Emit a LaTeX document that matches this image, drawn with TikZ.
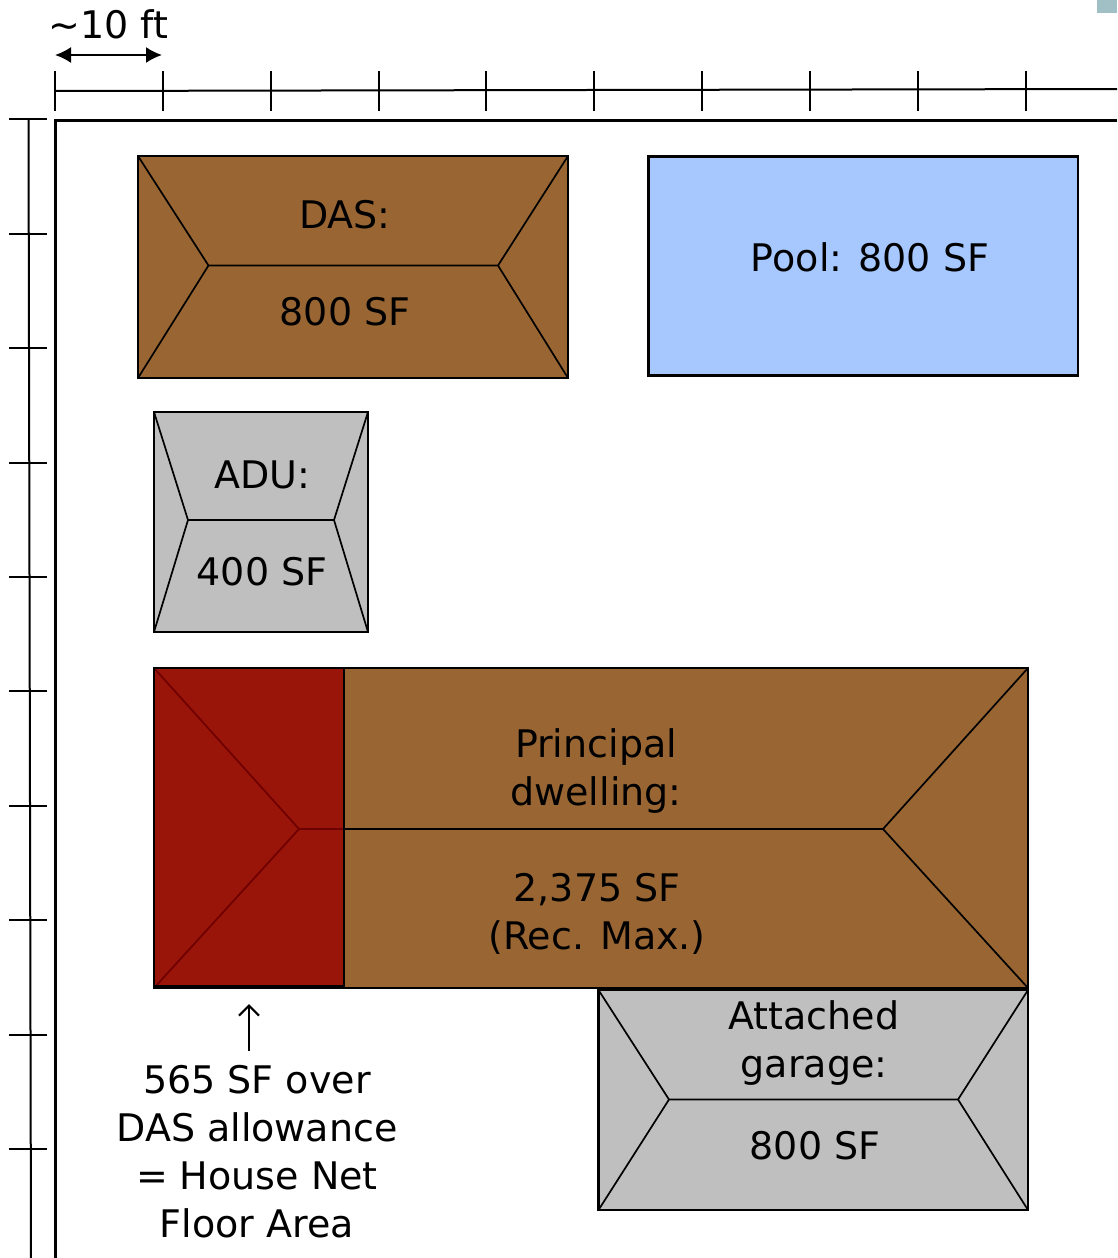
\documentclass[tikz,border=0pt]{standalone}
\usepackage{fontspec}
\setmainfont{DejaVu Sans}
\usetikzlibrary{arrows.meta}
\definecolor{roofbrown}{HTML}{996633}
\definecolor{roofgray}{HTML}{BFBFBF}
\definecolor{poolblue}{HTML}{A6C8FF}
\definecolor{overred}{HTML}{991409}
\definecolor{ridgered}{HTML}{6E0000}
\definecolor{cornerteal}{HTML}{A0C0C5}
\tikzset{
  x=1pt,y=-1pt,
  roofbox/.style={draw=black,line width=2.2pt},
  ridge/.style={draw=black,line width=1.7pt},
  redridge/.style={draw=ridgered,line width=1.7pt},
  rule/.style={draw=black,line width=2pt},
  label/.style={font=\fontsize{38}{48}\selectfont,align=center,inner sep=0pt,text=black},
}
\begin{document}
\begin{tikzpicture}
\useasboundingbox (0,0) rectangle (1117,1258);
\fill[cornerteal] (1097,0) rectangle (1117,13);
% top scale
\draw[rule] (55,91) -- (1117,89);
\foreach \xx in {54.5,162.5,270.5,378.5,486,594,702,810,918,1025.5} \draw[rule] (\xx,71) -- (\xx,111);
% left scale
\draw[rule] (28.5,119) -- (31,1258);
\foreach \yy in {119,233.5,348,462.5,577,691,805.5,920,1034.5,1149} \draw[rule] (9,\yy) -- (47,\yy);
% lot frame
\draw[line width=2.4pt] (1117,120.5) -- (55.5,120.5) -- (55.5,1258);
% dimension
\coordinate (dimL) at (55,55); \coordinate (dimR) at (162,55);
\draw[line width=2pt,{Latex[length=16pt,width=16pt]}-{Latex[length=16pt,width=16pt]}] (dimL) -- (dimR);
\node[label,anchor=base] (dimtext) at (108.5,38) {\char"007E 10 ft};
% DAS
\fill[roofbrown] (138,156) rectangle (568,378);
\draw[ridge] (138,156) -- (208.5,265.5) -- (138,378) (568,156) -- (498,265.5) -- (568,378) (208.5,265.5) -- (498,265.5);
\draw[roofbox] (138,156) rectangle (568,378);
\node[label,anchor=base] (dasA) at (345,228) {DAS:};
\node[label,anchor=base] (dasB) at (345,325) {800 SF};
% Pool
\draw[line width=2.8pt,fill=poolblue] (648.5,156.5) rectangle (1078,375.5);
\node[label,anchor=base] (pool) at (870,271) {Pool: 800 SF};
% ADU
\fill[roofgray] (154,412) rectangle (368,632);
\draw[ridge] (154,412) -- (188,520) -- (154,632) (368,412) -- (334,520) -- (368,632) (188,520) -- (334,520);
\draw[roofbox] (154,412) rectangle (368,632);
\node[label,anchor=base] (aduA) at (262,488) {ADU:};
\node[label,anchor=base] (aduB) at (262,585) {400 SF};
% Principal
\fill[roofbrown] (344,668) rectangle (1028,988);
\fill[overred] (154,668) rectangle (344,988);
\draw[redridge] (154,668) -- (299,829) -- (154,988) (299,829) -- (344,829);
\draw[ridge] (344,829) -- (883,829) (1028,668) -- (883,829) -- (1028,988);
\draw[line width=1.8pt] (344,668) -- (344,988);
\draw[roofbox] (154,668) rectangle (1028,988);
\draw[line width=3.4pt] (154,987) -- (344,987);
\node[label,anchor=base] (prinA) at (596,805) {Principal\\dwelling:};
\node[label,anchor=base] (prinB) at (597,949) {2,375 SF\\(Rec. Max.)};
% Garage
\fill[roofgray] (598.5,990) rectangle (1028,1210);
\draw[ridge] (598.5,990) -- (669,1099.5) -- (598.5,1210) (1028,990) -- (958,1099.5) -- (1028,1210) (669,1099.5) -- (958,1099.5);
\draw[roofbox] (598.5,990) rectangle (1028,1210);
\node[label,anchor=base] (garA) at (814,1077) {Attached\\garage:};
\node[label,anchor=base] (garB) at (815,1159) {800 SF};
% note
\node[label,anchor=base] (note) at (257,1237) {565 SF over\\DAS allowance\\= House Net\\Floor Area};
\coordinate (arrowTop) at (249,1004); \coordinate (arrowBot) at (249,1051);
\draw[line width=2.2pt,-{Straight Barb[length=10pt,width=20pt,line width=2.2pt]}] (arrowBot) -- (arrowTop);
\end{tikzpicture}
\end{document}
